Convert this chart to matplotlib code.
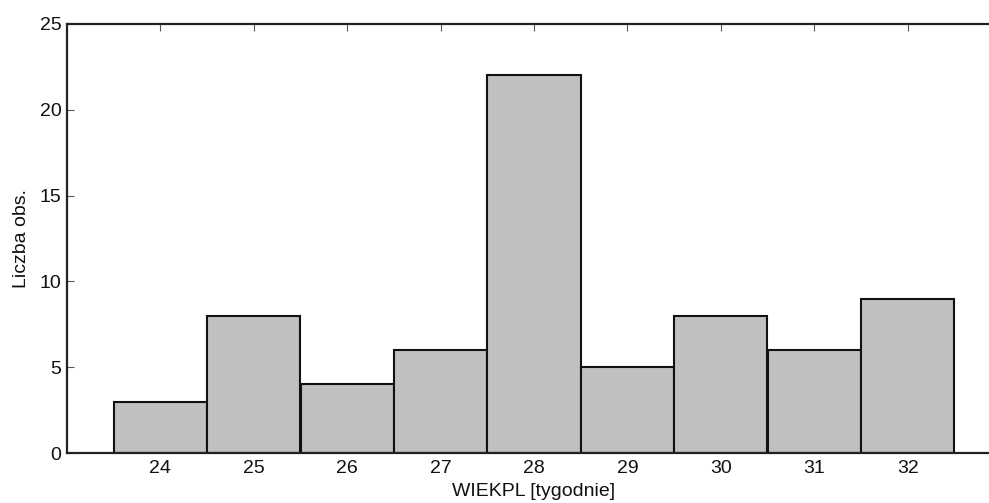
import matplotlib
matplotlib.use('Agg')
import matplotlib.pyplot as plt
from matplotlib import font_manager

# weeks of pregnancy (WIEKPL) and number of observations
weeks = [24, 25, 26, 27, 28, 29, 30, 31, 32]
counts = [3, 8, 4, 6, 22, 5, 8, 6, 9]
y_ticks = [0, 5, 10, 15, 20, 25]

names = {f.name for f in font_manager.fontManager.ttflist}
narrow = 'Liberation Sans Narrow' in names
family = 'Liberation Sans Narrow' if narrow else 'Liberation Sans'
plt.rcParams['font.family'] = [family, 'DejaVu Sans']
fs = 16 if narrow else 14

fig = plt.figure(figsize=(9.89, 5.03), dpi=100)
ax = fig.add_axes([67 / 989, 50 / 503, 934 / 989, 429 / 503])

ax.bar(weeks, counts, width=1.0, color='#c0c0c0', edgecolor='#111111',
       linewidth=1.5, zorder=2)

ax.set_xlim(23, 33)
ax.set_ylim(0, 25)
ax.set_xticks(weeks)
ax.set_yticks(y_ticks)

for side in ['left', 'top', 'bottom', 'right']:
    ax.spines[side].set_linewidth(1.6)
    ax.spines[side].set_color('#222222')

ax.tick_params(axis='both', direction='in', labelsize=fs, color='#555555',
               width=0.8, length=5, pad=4, labelcolor='#111111')
ax.tick_params(axis='x', top=True, bottom=False, pad=5)
ax.tick_params(axis='y', right=False)

ax.set_xlabel('WIEKPL [tygodnie]', fontsize=fs, labelpad=4, color='#111111')
ax.set_ylabel('Liczba obs.', fontsize=fs, labelpad=7, color='#111111')

fig.savefig('out.png', dpi=100)
